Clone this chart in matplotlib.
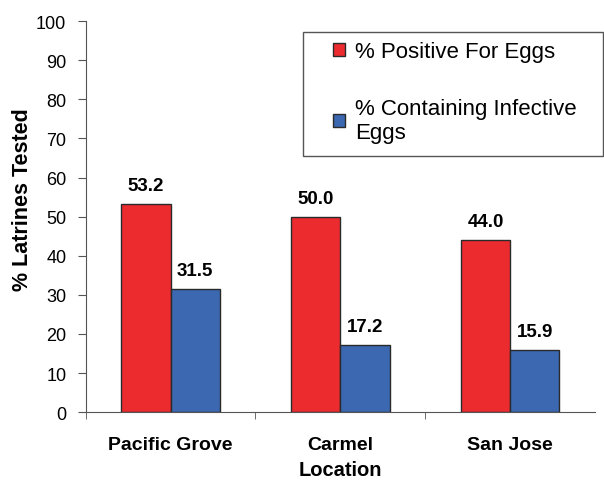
import matplotlib.pyplot as plt
import numpy as np
from matplotlib.patches import Rectangle

plt.rcParams["font.family"] = ["Liberation Sans", "DejaVu Sans"]

locations = ["Pacific Grove", "Carmel", "San Jose"]
positive = [53.2, 50.0, 44.0]
infective = [31.5, 17.2, 15.9]
series_labels = ["% Positive For Eggs", "% Containing Infective\nEggs"]
yticks = list(range(0, 101, 10))

red = "#ec2b2f"
blue = "#3b68b0"
edge = "#2a2a2a"


def main() -> None:
    fig = plt.figure(figsize=(6.04, 4.81), dpi=100)
    ax = fig.add_axes([0.142, 0.141, 0.843, 0.813])

    x = np.arange(len(locations))
    w = 0.29
    b1 = ax.bar(x - w / 2, positive, w, color=red, edgecolor=edge, linewidth=1.0,
                label=series_labels[0])
    b2 = ax.bar(x + w / 2, infective, w, color=blue, edgecolor=edge, linewidth=1.0,
                label=series_labels[1])

    for bars, vals in ((b1, positive), (b2, infective)):
        for bar, v in zip(bars, vals):
            ax.text(bar.get_x() + bar.get_width() / 2, v + 2.5, f"{v:.1f}",
                    ha="center", va="bottom", fontsize=13.5, fontweight="bold")

    ax.set_xlim(-0.5, 2.5)
    ax.set_ylim(0, 100)
    ax.set_yticks(yticks)
    ax.set_xticks(x)
    ax.set_xticklabels(locations, fontsize=14, fontweight="bold")
    ax.set_xticks([-0.5, 0.5, 1.5], minor=True)
    ax.tick_params(axis="x", which="major", length=0, pad=17)
    ax.tick_params(axis="x", which="minor", length=5, direction="out", color="#555555")
    ax.tick_params(axis="y", labelsize=13, length=6, color="#555555", pad=8)
    ax.set_xlabel("Location", fontsize=14.5, fontweight="bold", labelpad=5)
    ax.set_ylabel("% Latrines Tested", fontsize=15.5, fontweight="bold")
    ax.yaxis.set_label_coords(-0.103, 0.545)

    for s in ("top", "right"):
        ax.spines[s].set_visible(False)
    for s in ("left", "bottom"):
        ax.spines[s].set_color("#555555")

    # legend box drawn separately so the inner left padding can match
    fig.patches.append(Rectangle((0.502, 0.674), 0.497, 0.258, transform=fig.transFigure,
                                 facecolor="white", edgecolor="#555555", linewidth=1.0,
                                 zorder=1))
    fig.legend(loc="upper left", bbox_to_anchor=(0.551, 0.912), fontsize=16,
               frameon=False, handlelength=0.55, handleheight=0.55, handletextpad=0.45,
               labelspacing=1.6, borderpad=0, borderaxespad=0)

    fig.savefig("out.png", dpi=100)


if __name__ == "__main__":
    main()
